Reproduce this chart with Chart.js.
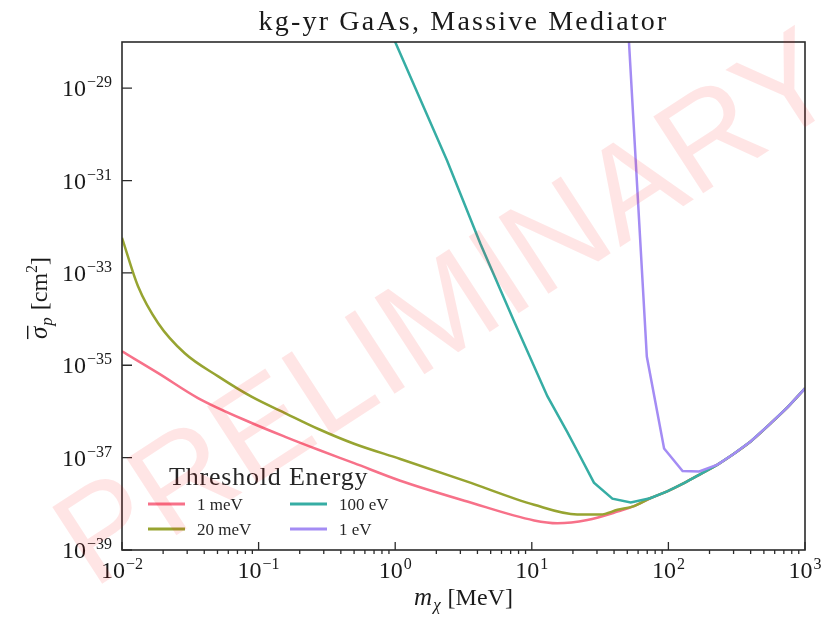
<!DOCTYPE html>
<html>
<head>
<meta charset="utf-8">
<title>kg-yr GaAs, Massive Mediator</title>
<script src="https://cdn.jsdelivr.net/npm/chart.js@4.4.1/dist/chart.umd.min.js"></script>
<style>
  html, body { margin: 0; padding: 0; background: #fff; }
  #wrap { width: 833px; height: 620px; position: relative; }
</style>
</head>
<body>
<div id="wrap"><canvas id="myChart"></canvas></div>
<script>
// valores: masa en MeV, seccion eficaz en cm^2
// tramo comun de todas las curvas a masas altas
const massTail = [73.5, 98, 130, 173, 229, 300, 400, 550, 750, 1000];
const sigmaTail = [1.32e-38, 1.86e-38, 2.82e-38, 4.47e-38, 7.08e-38, 1.20e-37, 2.24e-37, 5.25e-37, 1.26e-36, 3.16e-36];

const mass1meV = [0.01, 0.0184, 0.036, 0.089, 0.16, 0.274, 0.5, 1.09, 3.37, 10.4, 15.4, 25.5, 42.4, 56];
const sigma1meV = [2.0e-35, 6.76e-36, 1.95e-36, 5.62e-37, 2.75e-37, 1.48e-37, 7.59e-38, 3.16e-38, 1.12e-38, 4.37e-39, 3.80e-39, 4.47e-39, 6.76e-39, 8.91e-39];

const mass20meV = [0.01, 0.0131, 0.0184, 0.0288, 0.0506, 0.0887, 0.16, 0.274, 0.5, 1.09, 3.37, 10.4, 21.5, 31.9, 42.4, 56];
const sigma20meV = [5.75e-33, 5.13e-34, 8.13e-35, 1.82e-35, 5.75e-36, 2.09e-36, 8.91e-37, 4.17e-37, 2.0e-37, 9.33e-38, 3.02e-38, 9.55e-39, 5.89e-39, 5.89e-39, 7.41e-39, 8.91e-39];

const mass100eV = [0.9, 1.0, 2.4, 4.22, 7.4, 13, 18.2, 21.5, 28.5, 38.9, 53];
const sigma100eV = [2.04e-28, 1.0e-28, 2.69e-31, 4.17e-33, 9.12e-35, 2.14e-36, 3.55e-37, 1.41e-37, 2.88e-38, 1.29e-38, 1.07e-38];

const mass1eV = [50, 69.5, 93, 127, 168];
const sigma1eV = [4.47e-28, 1.55e-35, 1.58e-37, 5.13e-38, 5.01e-38];

const seriesLabels = ["1 meV", "20 meV", "100 eV", "1 eV"];
const seriesColors = ["#f77189", "#97a431", "#36ada4", "#a48cf4"];

const xTickValues = [1e-2, 1e-1, 1, 10, 100, 1000];
const yTickValues = [1e-39, 1e-37, 1e-35, 1e-33, 1e-31, 1e-29];

function juntarPuntos(masas, sigmas, desde) {
  // agrega el tramo comun a partir del indice "desde"
  const xs = masas.concat(massTail.slice(desde));
  const ys = sigmas.concat(sigmaTail.slice(desde));
  return xs.map((m, i) => ({ x: m, y: ys[i] }));
}

const serif = '"Liberation Serif", "Times New Roman", serif';

function dibujarPotencia(ctx, valor, x, base, align) {
  const exp = Math.round(Math.log10(valor));
  const sup = exp < 0 ? "\u2212" + Math.abs(exp) : String(exp);
  ctx.font = "24px " + serif;
  const wb = ctx.measureText("10").width;
  ctx.font = "16px " + serif;
  const ws = ctx.measureText(sup).width;
  const total = wb + ws + 1;
  const inicio = align === "center" ? x - total / 2 : x - total;
  ctx.textAlign = "left";
  ctx.textBaseline = "alphabetic";
  ctx.font = "24px " + serif;
  ctx.fillText("10", inicio, base);
  ctx.font = "16px " + serif;
  ctx.fillText(sup, inicio + wb + 1, base - 9);
}

const decoracion = {
  id: "decoracion",
  afterDraw(chart) {
    const { ctx, chartArea: a, scales } = chart;
    const sx = scales.x, sy = scales.y;
    ctx.save();

    // marco
    ctx.strokeStyle = "#2b2b2b";
    ctx.lineWidth = 1.6;
    ctx.strokeRect(a.left, a.top, a.right - a.left, a.bottom - a.top);

    // marcas del eje x (mayores hacia dentro, menores hacia fuera)
    ctx.lineWidth = 1.3;
    ctx.beginPath();
    xTickValues.forEach((v, i) => {
      const px = sx.getPixelForValue(v);
      ctx.moveTo(px, a.bottom);
      ctx.lineTo(px, a.bottom - 8);
      if (i < xTickValues.length - 1) {
        for (let k = 2; k <= 9; k++) {
          const pm = sx.getPixelForValue(k * v);
          ctx.moveTo(pm, a.bottom);
          ctx.lineTo(pm, a.bottom + 4);
        }
      }
    });
    yTickValues.forEach(v => {
      const py = sy.getPixelForValue(v);
      ctx.moveTo(a.left, py);
      ctx.lineTo(a.left + 10, py);
    });
    ctx.stroke();

    // etiquetas
    ctx.fillStyle = "#1a1a1a";
    xTickValues.forEach(v => dibujarPotencia(ctx, v, sx.getPixelForValue(v), a.bottom + 28, "center"));
    yTickValues.forEach(v => dibujarPotencia(ctx, v, a.left - 10, sy.getPixelForValue(v) + 8, "right"));

    const cx = (a.left + a.right) / 2;

    // titulo
    ctx.font = "28px " + serif;
    ctx.letterSpacing = "2.2px";
    ctx.textAlign = "center";
    ctx.fillText("kg-yr GaAs, Massive Mediator", cx, a.top - 12);
    ctx.letterSpacing = "0px";

    // titulo eje x
    ctx.textAlign = "left";
    ctx.font = "italic 25px " + serif;
    const wm = ctx.measureText("m").width;
    ctx.font = "italic 17px " + serif;
    const wchi = ctx.measureText("\u03c7").width;
    ctx.font = "24px " + serif;
    const wmev = ctx.measureText(" [MeV]").width;
    let xi = cx - (wm + wchi + 2 + wmev) / 2;
    const bx = a.bottom + 55;
    ctx.font = "italic 25px " + serif;
    ctx.fillText("m", xi, bx);
    ctx.font = "italic 17px " + serif;
    ctx.fillText("\u03c7", xi + wm + 1, bx + 5);
    ctx.font = "24px " + serif;
    ctx.fillText(" [MeV]", xi + wm + wchi + 2, bx);

    // titulo eje y
    ctx.save();
    ctx.translate(47, (a.top + a.bottom) / 2 + 2);
    ctx.rotate(-Math.PI / 2);
    ctx.font = "italic 25px " + serif;
    const wsig = ctx.measureText("\u03c3").width;
    ctx.font = "italic 17px " + serif;
    const wp = ctx.measureText("p").width;
    ctx.font = "24px " + serif;
    const wcm = ctx.measureText(" [cm").width;
    const wcor = ctx.measureText("]").width;
    ctx.font = "16px " + serif;
    const w2 = ctx.measureText("2").width;
    let yi = -(wsig + wp + wcm + w2 + wcor + 2) / 2;
    ctx.font = "italic 25px " + serif;
    ctx.fillText("\u03c3", yi, 0);
    ctx.fillRect(yi, -20, wsig + 1, 1.4);
    yi += wsig + 1;
    ctx.font = "italic 17px " + serif;
    ctx.fillText("p", yi, 5);
    yi += wp + 1;
    ctx.font = "24px " + serif;
    ctx.fillText(" [cm", yi, 0);
    yi += wcm;
    ctx.font = "16px " + serif;
    ctx.fillText("2", yi, -10);
    yi += w2;
    ctx.font = "24px " + serif;
    ctx.fillText("]", yi, 0);
    ctx.restore();

    // leyenda en dos columnas
    ctx.font = "26px " + serif;
    ctx.letterSpacing = "0.8px";
    ctx.fillStyle = "#262626";
    ctx.fillText("Threshold Energy", a.left + 47, a.bottom - 65);
    ctx.letterSpacing = "0px";
    const ds = chart.data.datasets;
    const orden = [[0, 0, 0], [1, 0, 1], [2, 1, 0], [3, 1, 1]];
    ctx.font = "17px " + serif;
    ctx.lineWidth = 3;
    orden.forEach(([i, col, fila]) => {
      const lx = a.left + 26 + col * 142;
      const ly = a.bottom - 46 + fila * 25;
      ctx.strokeStyle = ds[i].borderColor;
      ctx.beginPath();
      ctx.moveTo(lx, ly);
      ctx.lineTo(lx + 37, ly);
      ctx.stroke();
      ctx.fillStyle = "#262626";
      ctx.fillText(ds[i].label, lx + 49, ly + 6);
    });

    // marca de agua
    ctx.save();
    ctx.translate(450, 314);
    ctx.rotate(-33 * Math.PI / 180);
    ctx.font = '133px "Liberation Sans", Arial, sans-serif';
    ctx.textAlign = "center";
    ctx.textBaseline = "middle";
    ctx.fillStyle = "rgba(255, 0, 0, 0.1)";
    ctx.fillText("PRELIMINARY", 0, 0);
    ctx.restore();

    ctx.restore();
  }
};

const datasets = [
  { label: seriesLabels[0], data: juntarPuntos(mass1meV, sigma1meV, 0), order: 4, cubicInterpolationMode: "monotone" },
  { label: seriesLabels[1], data: juntarPuntos(mass20meV, sigma20meV, 0), order: 3, cubicInterpolationMode: "monotone" },
  { label: seriesLabels[2], data: juntarPuntos(mass100eV, sigma100eV, 0), order: 2 },
  { label: seriesLabels[3], data: juntarPuntos(mass1eV, sigma1eV, 4), order: 1 }
].map((d, i) => Object.assign(d, {
  borderColor: seriesColors[i],
  backgroundColor: seriesColors[i],
  borderWidth: 2.5,
  pointRadius: 0,
  fill: false,
  tension: 0
}));

const chartDOM = document.getElementById("myChart");
new Chart(chartDOM, {
  type: "line",
  data: { datasets },
  options: {
    responsive: true,
    maintainAspectRatio: false,
    animation: false,
    parsing: true,
    layout: { padding: { left: 122, right: 28, top: 42, bottom: 70 } },
    scales: {
      x: { type: "logarithmic", min: 0.01, max: 1000, display: false },
      y: { type: "logarithmic", min: 1e-39, max: 1e-28, display: false }
    },
    plugins: {
      legend: { display: false },
      title: { display: false },
      tooltip: { enabled: false }
    }
  },
  plugins: [decoracion]
});
</script>
</body>
</html>
